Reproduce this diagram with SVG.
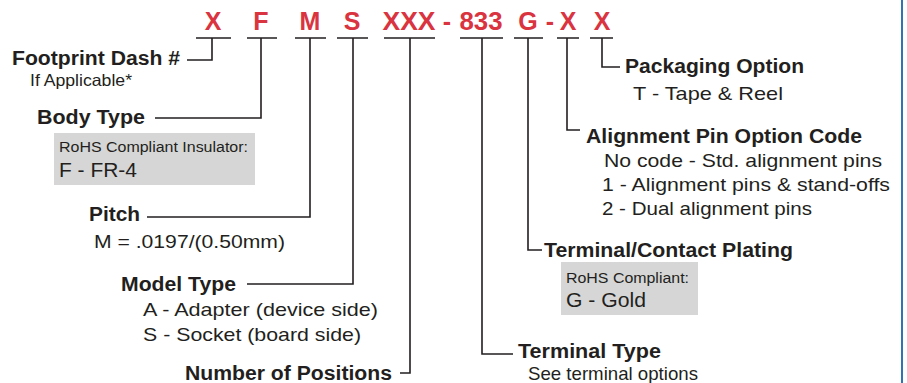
<svg xmlns="http://www.w3.org/2000/svg" width="907" height="383" viewBox="0 0 907 383">
<style>
text{font-family:"Liberation Sans",Arial,sans-serif;fill:#231f20}
.code{font-weight:bold;font-size:25px;fill:#d9343f;text-anchor:middle}
.h{font-weight:bold;font-size:19.5px}
.d{font-size:18.5px}
.s{font-size:14px}
.b{font-size:20px}
.ln{fill:none;stroke:#231f20;stroke-width:1.6}
.box{fill:#d6d6d6}
</style>
<rect width="907" height="383" fill="#ffffff"/>
<line x1="902" y1="0" x2="902" y2="383" stroke="#2e74b5" stroke-width="2"/>
<g id="code">
<text class="code" x="213" y="30">X</text>
<text class="code" x="261" y="30">F</text>
<text class="code" x="310" y="30">M</text>
<text class="code" x="352" y="30">S</text>
<text class="code" x="409" y="30" textLength="53" lengthAdjust="spacingAndGlyphs">XXX</text>
<text class="code" x="447" y="30">-</text>
<text class="code" x="481" y="30" textLength="43" lengthAdjust="spacingAndGlyphs">833</text>
<text class="code" x="528" y="30">G</text>
<text class="code" x="550" y="30">-</text>
<text class="code" x="568" y="30">X</text>
<text class="code" x="602" y="30">X</text>
</g>
<g id="connectors">
<path class="ln" d="M196 38H231M212 38V60H187"/>
<path class="ln" d="M247 38H277M261 38V118H155"/>
<path class="ln" d="M295 38H326M310 38V217H147"/>
<path class="ln" d="M337 38H368M353 38V284H247"/>
<path class="ln" d="M384 38H435M410 38V373H400"/>
<path class="ln" d="M460 38H503M482 38V354H513"/>
<path class="ln" d="M514 38H543M528 38V250H542"/>
<path class="ln" d="M557 38H579M567 38V130H580"/>
<path class="ln" d="M590 38H613M602 38V67H620"/>
</g>
<g id="footprint">
<text class="h" x="12" y="65" textLength="168" lengthAdjust="spacingAndGlyphs">Footprint Dash #</text>
<text class="d" x="30" y="86" style="font-size:16.5px" textLength="102" lengthAdjust="spacingAndGlyphs">If Applicable*</text>
</g>
<g id="body-type">
<text class="h" x="37" y="124" textLength="108" lengthAdjust="spacingAndGlyphs">Body Type</text>
<rect class="box" x="54" y="133" width="201" height="52"/>
<text class="s" x="59" y="152" textLength="189" lengthAdjust="spacingAndGlyphs">RoHS Compliant Insulator:</text>
<text class="b" x="59" y="177" textLength="78" lengthAdjust="spacingAndGlyphs">F - FR-4</text>
</g>
<g id="pitch">
<text class="h" x="89" y="221" textLength="51" lengthAdjust="spacingAndGlyphs">Pitch</text>
<text class="d" x="94" y="248" textLength="191" lengthAdjust="spacingAndGlyphs">M = .0197/(0.50mm)</text>
</g>
<g id="model-type">
<text class="h" x="121" y="291" textLength="115" lengthAdjust="spacingAndGlyphs">Model Type</text>
<text class="d" x="143" y="316" textLength="235" lengthAdjust="spacingAndGlyphs">A - Adapter (device side)</text>
<text class="d" x="143" y="341" textLength="218" lengthAdjust="spacingAndGlyphs">S - Socket (board side)</text>
</g>
<g id="positions">
<text class="h" x="185" y="380" textLength="207" lengthAdjust="spacingAndGlyphs">Number of Positions</text>
</g>
<g id="terminal-type">
<text class="h" x="518" y="358" textLength="143" lengthAdjust="spacingAndGlyphs">Terminal Type</text>
<text class="d" x="528" y="380" textLength="170" lengthAdjust="spacingAndGlyphs">See terminal options</text>
</g>
<g id="plating">
<text class="h" x="544" y="257" textLength="249" lengthAdjust="spacingAndGlyphs">Terminal/Contact Plating</text>
<rect class="box" x="561" y="262" width="137" height="53"/>
<text class="s" x="566" y="283" textLength="123" lengthAdjust="spacingAndGlyphs">RoHS Compliant:</text>
<text class="b" x="566" y="307" textLength="80" lengthAdjust="spacingAndGlyphs">G - Gold</text>
</g>
<g id="alignment">
<text class="h" x="586" y="143" textLength="276" lengthAdjust="spacingAndGlyphs">Alignment Pin Option Code</text>
<text class="d" x="604" y="167" textLength="278" lengthAdjust="spacingAndGlyphs">No code - Std. alignment pins</text>
<text class="d" x="602" y="191" textLength="288" lengthAdjust="spacingAndGlyphs">1 - Alignment pins &amp; stand-offs</text>
<text class="d" x="602" y="215" textLength="210" lengthAdjust="spacingAndGlyphs">2 - Dual alignment pins</text>
</g>
<g id="packaging">
<text class="h" x="625" y="73" textLength="179" lengthAdjust="spacingAndGlyphs">Packaging Option</text>
<text class="d" x="633" y="100" textLength="150" lengthAdjust="spacingAndGlyphs">T - Tape &amp; Reel</text>
</g>
</svg>
